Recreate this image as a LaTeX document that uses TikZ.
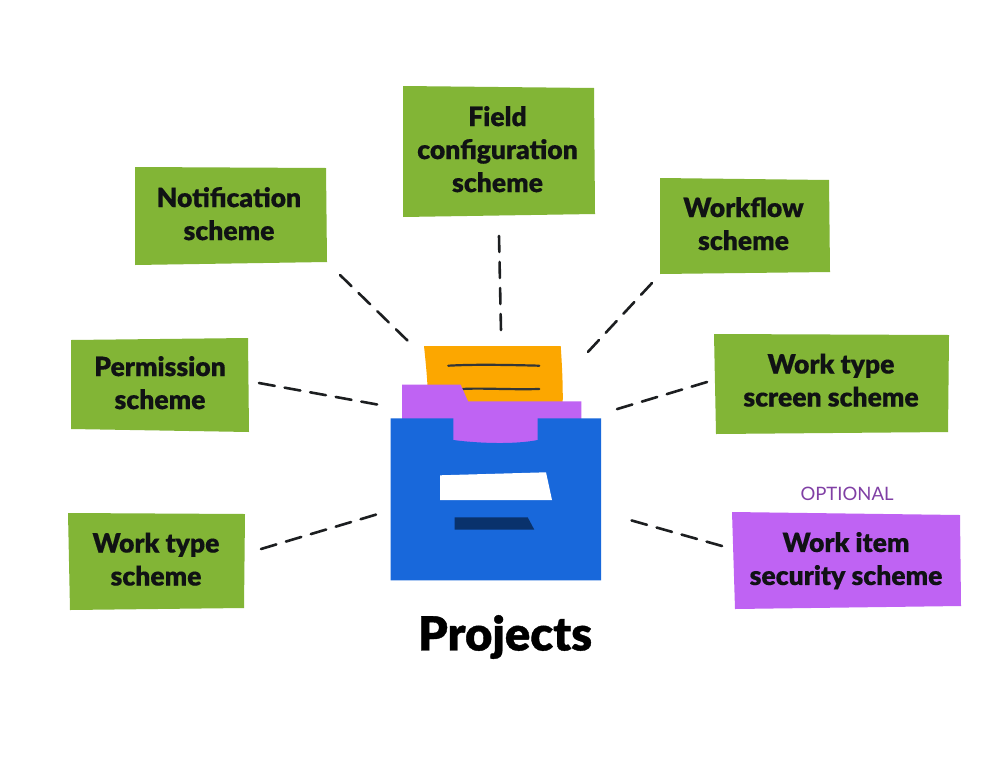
\documentclass[tikz,border=0pt]{standalone}
\usepackage{fontspec}
\setmainfont{Lato}
\newfontfamily\blk[FakeBold=0.35]{Lato Black}
\newfontfamily\blkx[FakeBold=0.8]{Lato Black}
\definecolor{boxgreen}{HTML}{82B536}
\definecolor{boxpurple}{HTML}{BF63F3}
\definecolor{cabblue}{HTML}{1868DB}
\definecolor{paperorange}{HTML}{FCA700}
\definecolor{navy}{HTML}{09326C}
\definecolor{ink}{HTML}{101214}
\definecolor{optpurple}{HTML}{803FA5}
\tikzset{
  x=1pt,y=-1pt,
  label text/.style={font=\blk\fontsize{26.5}{33}\selectfont,text=ink,align=center,inner sep=0pt},
  link/.style={draw=ink!95!white,line width=2.6pt,dash pattern=on 16pt off 10pt,line cap=round},
  scribble/.style={draw=ink!85!white,line width=2.2pt,line cap=round}
}
\begin{document}
\begin{tikzpicture}
\useasboundingbox (0,0) rectangle (1000,771);
\fill[white] (0,0) rectangle (1000,771);
% boxes
\fill[boxgreen] (403,86)--(594,88)--(595,214)--(403,217)--cycle;
\fill[boxgreen] (135,167)--(326,168)--(327,262)--(135,265)--cycle;
\fill[boxgreen] (660,178)--(829,180)--(830,272)--(660,274)--cycle;
\fill[boxgreen] (71,340)--(248,338)--(249,432)--(71,429)--cycle;
\fill[boxgreen] (714,334)--(949,335)--(948,432)--(716,434)--cycle;
\fill[boxgreen] (68,513)--(245,514)--(244,608)--(70,610)--cycle;
\fill[boxpurple] (732,512)--(960,515)--(961,606)--(735,609)--cycle;
\node[label text] (field) at (497.5,149.2) {Field\\configuration\\scheme};
\node[label text] (notif) at (229,213.7) {Notification\\scheme};
\node[label text] (wflow) at (743.5,223.7) {Workflow\\scheme};
\node[label text] (perm) at (160,382.7) {Permission\\scheme};
\node[label text] (wtscreen) at (831,380.2) {Work type\\screen scheme};
\node[label text] (wtype) at (156,559.2) {Work type\\scheme};
\node[label text] (wisec) at (846,560.7) {Work item\\security scheme};
\node[font=\fontsize{18.5}{22}\selectfont,text=optpurple,inner sep=0pt] (opt) at (847,494) {OPTIONAL};
% cabinet
\fill[paperorange] (424,346)--(560.7,346) .. controls (562,365) and (563,385) .. (562.7,403)--(428,403) .. controls (428,385) and (426,365) .. (424,346)--cycle;
\coordinate (s1a) at (448.3,365.7); \coordinate (s1b) at (539.3,365.7);
\coordinate (s2a) at (462.7,389); \coordinate (s2b) at (539.3,389);
\draw[scribble] (s1a) .. controls (470,364.5) and (495,364.5) .. (s1b);
\draw[scribble] (s2a) .. controls (480,387.8) and (510,389.8) .. (s2b);
\fill[boxpurple] (402,384.7)--(460.7,384.7)--(468,401.3)--(581.3,401.3)--(581.3,420)--(540,420)--(540,446)--(450,446)--(450,420)--(402,420)--cycle;
\fill[cabblue] (390.7,418.3)--(453.3,418.3)--(453.3,440) .. controls (480,443.5) and (515,444.5) .. (537.7,440)--(537.7,418.3)--(601,418.3)--(601,580.3)--(390.7,580.3)--cycle;
\fill[white] (440,475.3)--(546,472.3)--(552,500)--(440,500)--cycle;
\fill[navy] (454.7,517.3)--(527.7,517.3)--(534.3,529.7)--(454.7,529.7)--cycle;
\node[font=\blkx\fontsize{47}{50}\selectfont,text=black,inner sep=0pt] (proj) at (505,637) {Projects};
% connectors
\coordinate (a1) at (340,275); \coordinate (b1) at (409,342);
\coordinate (a2) at (259,383); \coordinate (b2) at (380,405);
\coordinate (a3) at (499,236); \coordinate (b3) at (501,331);
\coordinate (a4) at (652,283); \coordinate (b4) at (586,354);
\coordinate (a5) at (707,382); \coordinate (b5) at (614,410);
\coordinate (a6) at (722,546); \coordinate (b6) at (630,520);
\coordinate (a7) at (261,549); \coordinate (b7) at (378,514);
\foreach \i in {1,...,7} \draw[link] (a\i)--(b\i);
\end{tikzpicture}
\end{document}
